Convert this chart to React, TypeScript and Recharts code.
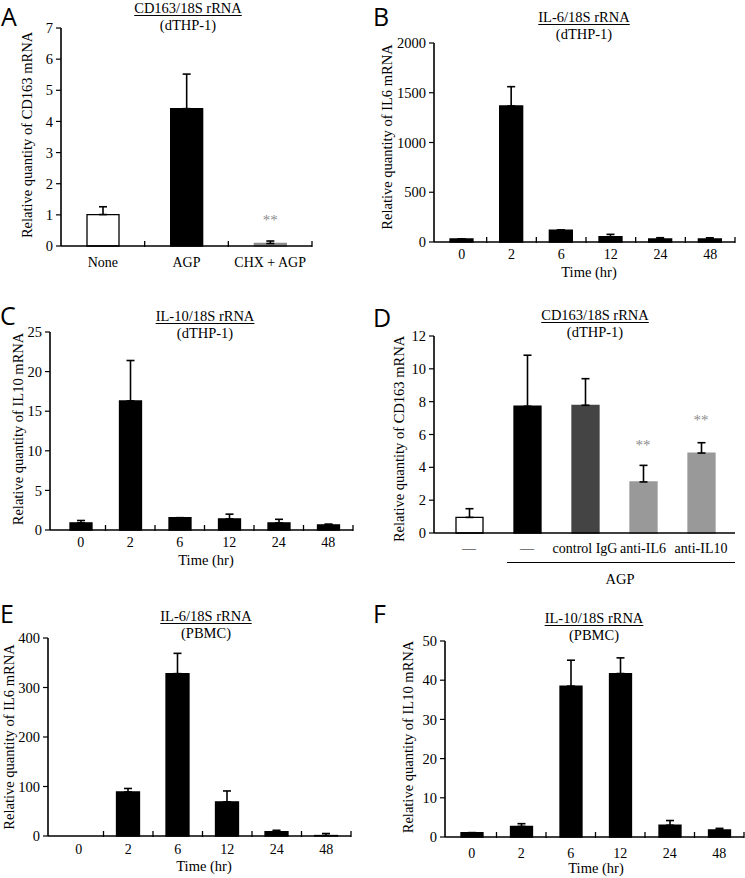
import { Bar, BarChart, Cell, ErrorBar, ReferenceDot, XAxis, YAxis } from "recharts";

const FONT = '"Liberation Serif", "Times New Roman", serif';
const LETTER_FONT = '"Open Sans", "DejaVu Sans", sans-serif';

// shared categories
const timeKeys = ["0", "2", "6", "12", "24", "48"];

// A: CD163 (dTHP-1)
const aKeys = ["none", "agp", "chx"];
const aLabels = ["None", "AGP", "CHX + AGP"];
const aMean = [1.01, 4.41, 0.08];
const aUpper = [1.26, 5.52, 0.16];
const aStars = [null, null, 0.85];
const aFills = ["#ffffff", "#000000", "#8c8c8c"];
const aTicks = [0, 1, 2, 3, 4, 5, 6, 7];

// B: IL-6 (dTHP-1)
const bMean = [30, 1367, 120, 53, 30, 30];
const bUpper = [30, 1561, 120, 77, 43, 42];
const bTicks = [0, 500, 1000, 1500, 2000];

// C: IL-10 (dTHP-1)
const cMean = [0.9, 16.3, 1.55, 1.4, 0.9, 0.65];
const cUpper = [1.2, 21.4, 1.55, 2.0, 1.35, 0.75];
const cTicks = [0, 5, 10, 15, 20, 25];

// D: CD163 with antibodies (dTHP-1)
const dKeys = ["none", "agp", "igg", "il6", "il10"];
const dLabels = ["—", "—", "control IgG", "anti-IL6", "anti-IL10"];
const dMean = [0.95, 7.72, 7.78, 3.11, 4.87];
const dUpper = [1.48, 10.83, 9.4, 4.12, 5.5];
const dStars = [null, null, null, 5.4, 6.9];
const dFills = ["#ffffff", "#000000", "#444444", "#999999", "#999999"];
const dTicks = [0, 2, 4, 6, 8, 10, 12];

// E: IL-6 (PBMC)
const eMean = [0, 89, 328, 69, 9, 1];
const eUpper = [0, 96, 369, 91, 11.5, 5];
const eTicks = [0, 100, 200, 300, 400];

// F: IL-10 (PBMC)
const fMean = [1.1, 2.7, 38.5, 41.7, 3.0, 1.8];
const fUpper = [1.1, 3.4, 45.1, 45.7, 4.2, 2.2];
const fTicks = [0, 10, 20, 30, 40, 50];

type Row = {
  key: string;
  label: string;
  mean: number;
  err: [number, number];
  star: number | null;
  fill: string;
};

const rowsOf = (
  keys: string[],
  labels: string[],
  mean: number[],
  upper: number[],
  fills?: string[],
  stars?: (number | null)[]
): Row[] =>
  keys.map((k, i) => ({
    key: k,
    label: labels[i],
    mean: mean[i],
    err: [0, Math.max(0, upper[i] - mean[i])],
    star: stars ? stars[i] : null,
    fill: fills ? fills[i] : "#000000",
  }));

type PanelProps = {
  rows: Row[];
  x0: number;
  x1: number;
  top: number;
  bottom: number;
  ticks: number[];
  barSize: number;
  padL?: number;
  padR?: number;
  boundary?: boolean;
  tickDy: number;
};

const Panel = ({ rows, x0, x1, top, bottom, ticks, barSize, padL = 0, padR = 0, boundary = true, tickDy }: PanelProps) => {
  const chartLeft = x0 - 50;
  const chartTop = top - 14;
  const width = x1 - chartLeft + 6;
  const height = bottom - chartTop + 45;
  const band = (x1 - x0 - padL - padR) / rows.length;
  const labelOf: Record<string, string> = {};
  rows.forEach((r) => (labelOf[r.key] = r.label));

  const renderTick = (t: any) => (
    <g>
      <text
        x={t.x}
        y={t.y + tickDy}
        textAnchor="middle"
        dominantBaseline="central"
        fontFamily={FONT}
        fontSize={14}
        fill="#000"
      >
        {labelOf[t.payload.value]}
      </text>
      {boundary && (
        <line x1={t.x + band / 2} x2={t.x + band / 2} y1={t.y - 5} y2={t.y + 1} stroke="#000" strokeWidth={1.3} />
      )}
    </g>
  );

  return (
    <div style={{ position: "absolute", left: chartLeft, top: chartTop }}>
      <BarChart width={width} height={height} data={rows} margin={{ top: 14, right: 6, bottom: 5, left: 0 }}>
        <XAxis
          dataKey="key"
          interval={0}
          height={40}
          tickSize={0}
          tickMargin={0}
          tickLine={false}
          tick={renderTick}
          axisLine={{ stroke: "#000", strokeWidth: 1.6 }}
          padding={{ left: padL, right: padR }}
        />
        <YAxis
          width={50}
          domain={[0, ticks[ticks.length - 1]]}
          ticks={ticks}
          interval={0}
          tickSize={5}
          tickMargin={3}
          tick={{ fontFamily: FONT, fontSize: 14.5, fill: "#000" }}
          axisLine={{ stroke: "#000", strokeWidth: 1.6 }}
          tickLine={{ stroke: "#000", strokeWidth: 1.2 }}
        />
        <Bar dataKey="mean" barSize={barSize} isAnimationActive={false}>
          {rows.map((r) => (
            <Cell
              key={r.key}
              fill={r.fill}
              stroke={r.fill === "#ffffff" ? "#000" : r.fill}
              strokeWidth={1.3}
            />
          ))}
          <ErrorBar dataKey="err" width={4} stroke="#000" strokeWidth={1.6} direction="y" />
        </Bar>
        {rows
          .filter((r) => r.star != null)
          .map((r) => (
            <ReferenceDot
              key={r.key}
              x={r.key}
              y={r.star as number}
              r={0}
              fill="none"
              stroke="none"
              label={{ value: "**", position: "center", fill: "#8c8c8c", fontSize: 15, fontFamily: FONT }}
            />
          ))}
      </BarChart>
    </div>
  );
};

const Title = ({ cx, y, line1, line2 }: { cx: number; y: number; line1: string; line2: string }) => (
  <div
    style={{
      position: "absolute",
      left: cx,
      top: y - 9,
      transform: "translateX(-50%)",
      textAlign: "center",
      fontFamily: FONT,
      fontSize: 14.5,
      lineHeight: "17px",
      whiteSpace: "nowrap",
      color: "#000",
    }}
  >
    <div style={{ textDecoration: "underline", textUnderlineOffset: 2 }}>{line1}</div>
    <div>{line2}</div>
  </div>
);

const YLabel = ({ cx, cy, text }: { cx: number; cy: number; text: string }) => (
  <div
    style={{
      position: "absolute",
      left: cx,
      top: cy,
      transform: "translate(-50%, -50%) rotate(-90deg)",
      fontFamily: FONT,
      fontSize: 14.5,
      whiteSpace: "nowrap",
      lineHeight: "16px",
    }}
  >
    {text}
  </div>
);

const Text = ({ cx, cy, text }: { cx: number; cy: number; text: string }) => (
  <div
    style={{
      position: "absolute",
      left: cx,
      top: cy,
      transform: "translate(-50%, -50%)",
      fontFamily: FONT,
      fontSize: 14.5,
      whiteSpace: "nowrap",
      lineHeight: "16px",
    }}
  >
    {text}
  </div>
);

const Letter = ({ x, y, text }: { x: number; y: number; text: string }) => (
  <div style={{ position: "absolute", left: x, top: y, fontFamily: LETTER_FONT, fontSize: 25, lineHeight: "26px" }}>
    {text}
  </div>
);

export default function App() {
  const aRows = rowsOf(aKeys, aLabels, aMean, aUpper, aFills, aStars);
  const bRows = rowsOf(timeKeys, timeKeys, bMean, bUpper);
  const cRows = rowsOf(timeKeys, timeKeys, cMean, cUpper);
  const dRows = rowsOf(dKeys, dLabels, dMean, dUpper, dFills, dStars);
  const eRows = rowsOf(timeKeys, timeKeys, eMean, eUpper);
  const fRows = rowsOf(timeKeys, timeKeys, fMean, fUpper);

  return (
    <div style={{ position: "absolute", left: 0, top: 0, width: 745, height: 878, background: "#fff", overflow: "hidden" }}>
      <Panel rows={aRows} x0={61} x1={312} top={28} bottom={246} ticks={aTicks} barSize={32} tickDy={16} />
      <Panel rows={bRows} x0={434} x1={735} top={43} bottom={242} ticks={bTicks} barSize={23} padL={3} tickDy={12} />
      <Panel rows={cRows} x0={50} x1={353} top={332} bottom={530} ticks={cTicks} barSize={22} padL={6} tickDy={12} />
      <Panel rows={dRows} x0={434} x1={735} top={336} bottom={533} ticks={dTicks} barSize={27} padL={6} padR={5} boundary={false} tickDy={15} />
      <Panel rows={eRows} x0={48} x1={351} top={638} bottom={836} ticks={eTicks} barSize={23} padL={6} tickDy={13} />
      <Panel rows={fRows} x0={445} x1={744} top={641} bottom={837} ticks={fTicks} barSize={22} padL={2} tickDy={16} />

      <Letter x={1} y={3} text="A" />
      <Letter x={373} y={3} text="B" />
      <Letter x={0} y={302} text="C" />
      <Letter x={373} y={304} text="D" />
      <Letter x={0} y={600} text="E" />
      <Letter x={373} y={600} text="F" />

      <Title cx={188} y={8.5} line1="CD163/18S rRNA" line2="(dTHP-1)" />
      <Title cx={584} y={17.5} line1="IL-6/18S rRNA" line2="(dTHP-1)" />
      <Title cx={205} y={316.5} line1="IL-10/18S rRNA" line2="(dTHP-1)" />
      <Title cx={595} y={316} line1="CD163/18S rRNA" line2="(dTHP-1)" />
      <Title cx={206} y={616.5} line1="IL-6/18S rRNA" line2="(PBMC)" />
      <Title cx={594} y={619} line1="IL-10/18S rRNA" line2="(PBMC)" />

      <YLabel cx={27} cy={135} text="Relative quantity of CD163 mRNA" />
      <YLabel cx={387} cy={137} text="Relative quantity of IL6 mRNA" />
      <YLabel cx={18} cy={429} text="Relative quantity of IL10 mRNA" />
      <YLabel cx={399} cy={439} text="Relative quantity of CD163 mRNA" />
      <YLabel cx={9} cy={737} text="Relative quantity of IL6 mRNA" />
      <YLabel cx={408} cy={737} text="Relative quantity of IL10 mRNA" />

      <Text cx={589} cy={272} text="Time (hr)" />
      <Text cx={206} cy={560} text="Time (hr)" />
      <Text cx={204} cy={866} text="Time (hr)" />
      <Text cx={596} cy={868} text="Time (hr)" />

      <div style={{ position: "absolute", left: 507, top: 562, width: 228, borderTop: "1.5px solid #000" }} />
      <Text cx={620} cy={579} text="AGP" />
    </div>
  );
}
